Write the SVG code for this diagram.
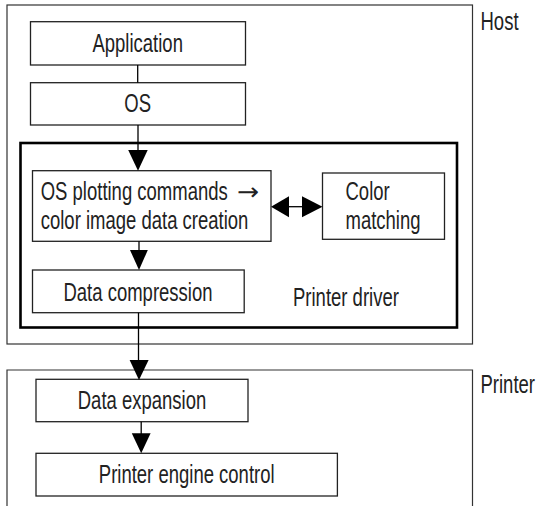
<svg xmlns="http://www.w3.org/2000/svg" width="536" height="506" viewBox="0 0 536 506">
<style>
.box{fill:#fff;stroke:#222;stroke-width:1.3}
.frame{fill:none;stroke:#333;stroke-width:1.2}
.drv{fill:none;stroke:#000;stroke-width:2.6}
.t{font-family:"Liberation Sans",Arial,sans-serif;font-size:25px;fill:#222}
.m{text-anchor:middle}
.arr{font-family:"DejaVu Sans ExtraLight","DejaVu Sans",sans-serif;font-size:24px;fill:#222}
.ln{stroke:#000;stroke-width:1.3;fill:none}
.ah{fill:#000}
</style>
<rect width="536" height="506" fill="#fff"/>
<g id="host">
<rect class="frame" x="7" y="5" width="465.5" height="339"/>
<text class="t" transform="translate(480.5 29.5) scale(0.74 1)">Host</text>
</g>
<g id="printer">
<path class="frame" d="M7 510 V370 H472.5 V510"/>
<text class="t" transform="translate(480.5 393.3) scale(0.74 1)">Printer</text>
</g>
<g id="printer-driver">
<rect class="drv" x="20.5" y="143" width="436.5" height="184.5"/>
<text class="t" transform="translate(293 305.5) scale(0.74 1)">Printer driver</text>
</g>
<g id="application">
<rect class="box" x="30.5" y="21.7" width="215" height="43.3"/>
<text class="t m" transform="translate(137.7 51.7) scale(0.74 1)">Application</text>
</g>
<g id="os">
<rect class="box" x="30.5" y="82.7" width="215" height="42.3"/>
<text class="t m" transform="translate(137.7 112.3) scale(0.74 1)">OS</text>
</g>
<g id="plotting">
<rect class="box" x="32.5" y="170.7" width="238.5" height="70.6"/>
<text class="t" transform="translate(40.7 199.5) scale(0.74 1)">OS plotting commands</text>
<text class="arr" transform="translate(237 199.5) scale(1.1 1)">→</text>
<text class="t" transform="translate(40.7 228.8) scale(0.74 1)">color image data creation</text>
</g>
<g id="color-matching">
<rect class="box" x="322.5" y="173" width="122" height="66.3"/>
<text class="t" transform="translate(345.5 199.5) scale(0.74 1)">Color</text>
<text class="t" transform="translate(345.5 228.8) scale(0.74 1)">matching</text>
</g>
<g id="compression">
<rect class="box" x="32.5" y="270" width="211.7" height="42.7"/>
<text class="t m" transform="translate(138 300.7) scale(0.74 1)">Data compression</text>
</g>
<g id="expansion">
<rect class="box" x="36" y="379.3" width="212" height="42.4"/>
<text class="t m" transform="translate(142 409.3) scale(0.74 1)">Data expansion</text>
</g>
<g id="engine">
<rect class="box" x="36" y="453.3" width="301.4" height="42.7"/>
<text class="t m" transform="translate(186.7 483.3) scale(0.74 1)">Printer engine control</text>
</g>
<g id="connectors">
<line class="ln" x1="137.7" y1="65" x2="137.7" y2="82.7"/>
<line class="ln" x1="138" y1="125" x2="138" y2="152"/>
<polygon class="ah" points="128.2,150 147.7,150 138,170.7"/>
<line class="ln" x1="139" y1="241.3" x2="139" y2="252"/>
<polygon class="ah" points="130,250 147.8,250 139,270"/>
<line class="ln" x1="138.5" y1="312.7" x2="138.5" y2="362"/>
<polygon class="ah" points="129.6,360 148.6,360 139,380"/>
<line class="ln" x1="141.2" y1="421.7" x2="141.2" y2="435"/>
<polygon class="ah" points="131.8,433.3 150.6,433.3 141.2,453.3"/>
<line class="ln" x1="287" y1="206.7" x2="304" y2="206.7"/>
<polygon class="ah" points="271,206.7 289,196.2 289,217.2"/>
<polygon class="ah" points="322.5,206.7 302,196.2 302,217.2"/>
</g>
</svg>
